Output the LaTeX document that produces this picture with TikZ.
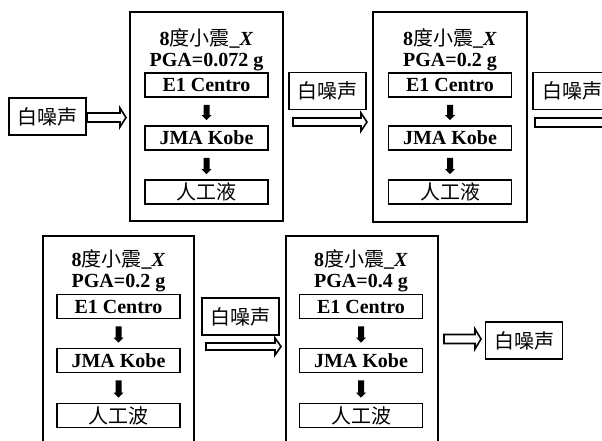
\documentclass[tikz,border=0pt]{standalone}
\usepackage{fontspec}
\setmainfont{Liberation Serif}
\newfontfamily\cjk[BoldFont={Noto Sans CJK SC}]{Noto Sans CJK SC}
\usetikzlibrary{calc}
\tikzset{
  box/.style={draw, line width=1.2pt, inner sep=0pt, font=\fontsize{15}{16}\selectfont\bfseries},
  inbox/.style={box, minimum width=92.25pt, minimum height=18pt},
  wnbox/.style={box, minimum width=57.75pt, minimum height=27.75pt},
  bigbox/.style={draw, line width=1.2pt, inner sep=0pt},
  title/.style={align=center, inner sep=0pt, font=\fontsize{15}{15.5}\selectfont\bfseries},
  hollowarr/.style={draw, line width=1.2pt, fill=white, line join=miter},
  solidarr/.style={fill=black, draw=none}
}
\newcommand\harrow[4]{%
  \draw[hollowarr] ($(#1)+(0,#3)$) -- ($(#2)+(-6,#3)$) -- ($(#2)+(-6,#4)$) -- (#2)
    -- ($(#2)+(-6,-#4)$) -- ($(#2)+(-6,-#3)$) -- ($(#1)+(0,-#3)$) -- cycle;}
\newcommand\darrow[2]{%
  \fill[solidarr] ($(#1.south)+(-3,7)$) -- ($(#2.north)+(-3,-10)$) -- ($(#2.north)+(-5,-10)$)
    -- ($(#2.north)+(0,-5)$) -- ($(#2.north)+(5,-10)$) -- ($(#2.north)+(3,-10)$)
    -- ($(#1.south)+(3,7)$) -- cycle;}
\begin{document}
\begin{tikzpicture}[x=0.75pt, y=-0.75pt]
\useasboundingbox (0,0) rectangle (602,441);
\clip (0,0) rectangle (602,441);
% ---- top row ----
\node[wnbox] (wn1) at (47.5,116.5) {\cjk 白噪声};
\coordinate (a1s) at (87,117.5); \coordinate (a1e) at (126,117.5);
\harrow{a1s}{a1e}{4.5}{9.5}
\node[bigbox, minimum width=114.75pt, minimum height=156.75pt] (big1) at (206.5,116.5) {};
\node[title] (t1) at (206.5,50) {8{\cjk 度小震}\_\textit{X}\\PGA=0.072 g};
\node[inbox] (e1) at (206.5,85) {E1 Centro};
\node[inbox] (j1) at (206.5,138) {JMA Kobe};
\node[inbox] (r1) at (206.5,192) {\cjk 人工液};
\darrow{e1}{j1}
\darrow{j1}{r1}
\node[wnbox] (wn2) at (327.5,91) {\cjk 白噪声};
\coordinate (a2s) at (293,122); \coordinate (a2e) at (367,122);
\harrow{a2s}{a2e}{4}{9}
\node[bigbox, minimum width=115.5pt, minimum height=157.5pt] (big2) at (450,117) {};
\node[title] (t2) at (450,50) {8{\cjk 度小震}\_\textit{X}\\PGA=0.2 g};
\node[inbox] (e2) at (450,85) {E1 Centro};
\node[inbox] (j2) at (450,138) {JMA Kobe};
\node[inbox] (r2) at (450,192) {\cjk 人工液};
\darrow{e2}{j2}
\darrow{j2}{r2}
\node[wnbox, minimum width=60pt, anchor=west] (wn3) at (532,91) {\cjk 白噪声\hspace{8pt}};
\coordinate (a3s) at (535,122.5); \coordinate (a3e) at (640,122.5);
\harrow{a3s}{a3e}{4.5}{9}
% ---- bottom row ----
\node[bigbox, minimum width=113.25pt, minimum height=180pt, anchor=north west] (big3) at (42,235) {};
\node[title] (t3) at (118.5,271) {8{\cjk 度小震}\_\textit{X}\\PGA=0.2 g};
\node[inbox] (e3) at (118.5,306.5) {E1 Centro};
\node[inbox] (j3) at (118.5,360.5) {JMA Kobe};
\node[inbox] (r3) at (118.5,415.5) {\cjk 人工波};
\darrow{e3}{j3}
\darrow{j3}{r3}
\node[wnbox] (wn4) at (240.5,316.5) {\cjk 白噪声};
\coordinate (a4s) at (206,346.5); \coordinate (a4e) at (281,346.5);
\harrow{a4s}{a4e}{3.5}{8.5}
\node[bigbox, minimum width=114pt, minimum height=180pt, anchor=north west] (big4) at (285,235) {};
\node[title] (t4) at (361,271) {8{\cjk 度小震}\_\textit{X}\\PGA=0.4 g};
\node[inbox] (e4) at (361,306.5) {E1 Centro};
\node[inbox] (j4) at (361,360.5) {JMA Kobe};
\node[inbox] (r4) at (361,415.5) {\cjk 人工波};
\darrow{e4}{j4}
\darrow{j4}{r4}
\coordinate (a5s) at (444,339); \coordinate (a5e) at (481,339);
\harrow{a5s}{a5e}{4.5}{10}
\node[wnbox] (wn5) at (524,340.5) {\cjk 白噪声};
\end{tikzpicture}
\end{document}
